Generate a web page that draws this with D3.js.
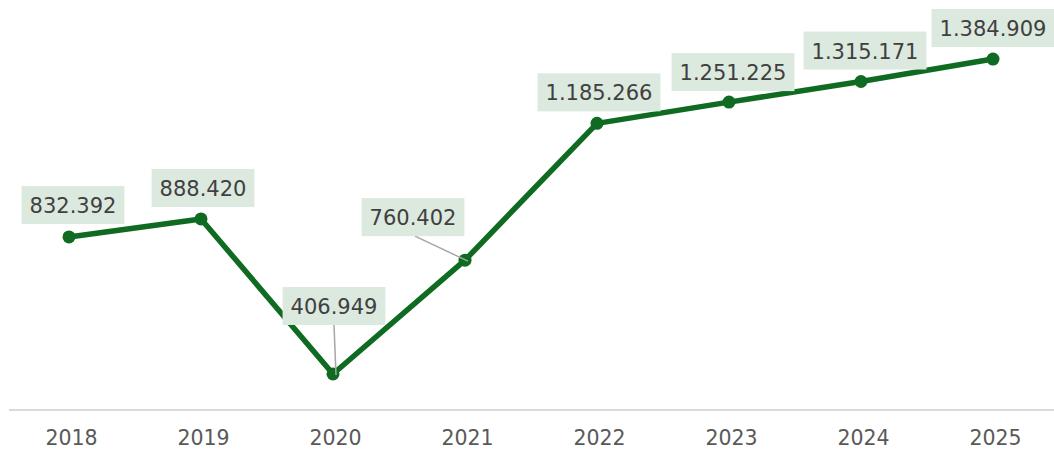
<!DOCTYPE html>
<html>
<head>
<meta charset="utf-8">
<script src="https://cdn.jsdelivr.net/npm/d3@7"></script>
<style>
  body { margin: 0; background: #fff; }
  svg { display: block; font-family: "DejaVu Sans", sans-serif; }
</style>
</head>
<body>
<svg id="chart" width="1054" height="451"></svg>
<script>
var years = ['2018', '2019', '2020', '2021', '2022', '2023', '2024', '2025'];
var values = [832392, 888420, 406949, 760402, 1185266, 1251225, 1315171, 1384909];
var labels = ['832.392', '888.420', '406.949', '760.402', '1.185.266', '1.251.225', '1.315.171', '1.384.909'];

// label placement: center offset from point, box bottom above point, leader line
var labelPos = [
    { dx: 4, dy: -13 },
    { dx: 2, dy: -12 },
    { dx: 1, dy: -49, leader: true },
    { dx: -52, dy: -24, leader: true },
    { dx: 2, dy: -12 },
    { dx: 4, dy: -11 },
    { dx: 4, dy: -12 },
    { dx: 0, dy: -12 }
];

var width = 1054, height = 451;
var boxH = 38, padX = 8;

var svg = d3.select('#chart');

var x = d3.scalePoint()
    .domain(years)
    .range([69, 993]);

var y = d3.scaleLinear()
    .domain([0, 1500000])
    .range([505, 22]);

// baseline
svg.append('line')
    .attr('x1', 9).attr('x2', 1054)
    .attr('y1', 410).attr('y2', 410)
    .attr('stroke', '#d9d9d9')
    .attr('stroke-width', 2);

var xAxis = svg.append('g')
    .attr('transform', 'translate(2,410)')
    .call(d3.axisBottom(x).tickSize(0).tickPadding(20));
xAxis.select('.domain').remove();
xAxis.selectAll('text')
    .attr('font-size', 20.5)
    .attr('font-family', '"DejaVu Sans", sans-serif')
    .attr('fill', '#595959');

var data = years.map(function (d, i) {
    return { year: d, value: values[i], label: labels[i], pos: labelPos[i] };
});

var line = d3.line()
    .x(function (d) { return x(d.year); })
    .y(function (d) { return y(d.value); });

svg.append('path')
    .datum(data)
    .attr('d', line)
    .attr('fill', 'none')
    .attr('stroke', '#0f6b21')
    .attr('stroke-width', 5.5)
    .attr('stroke-linejoin', 'round');

svg.selectAll('.dot')
    .data(data)
    .enter().append('circle')
    .attr('class', 'dot')
    .attr('cx', function (d) { return x(d.year); })
    .attr('cy', function (d) { return y(d.value); })
    .attr('r', 6.5)
    .attr('fill', '#0f6b21');

var lab = svg.selectAll('.lab')
    .data(data)
    .enter().append('g')
    .attr('class', 'lab');

lab.each(function (d) {
    var g = d3.select(this);
    var px = x(d.year), py = y(d.value);
    var cx = px + d.pos.dx;
    var bottom = py + d.pos.dy;
    var rect = g.append('rect').attr('fill', '#dce9df');
    var t = g.append('text')
        .attr('x', cx)
        .attr('y', bottom - boxH / 2 + 8)
        .attr('text-anchor', 'middle')
        .attr('font-size', 21)
        .attr('fill', '#404040')
        .text(d.label);
    var w = t.node().getBBox().width + padX * 2;
    rect.attr('x', cx - w / 2)
        .attr('y', bottom - boxH)
        .attr('width', w)
        .attr('height', boxH);
    if (d.pos.leader) {
        var lx = d.pos.dx < -20 ? cx + 2 : cx;
        g.insert('line', 'rect')
            .attr('x1', lx).attr('y1', bottom)
            .attr('x2', px + 3).attr('y2', py + 1)
            .attr('stroke', '#a6a6a6')
            .attr('stroke-width', 1.5);
    }
});
</script>
</body>
</html>
